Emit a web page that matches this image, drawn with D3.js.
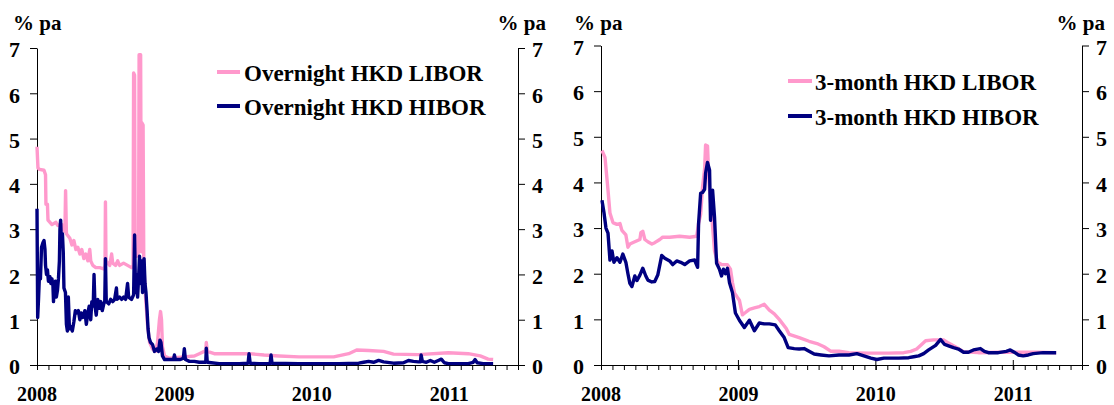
<!DOCTYPE html>
<html>
<head>
<meta charset="utf-8">
<script src="https://cdn.jsdelivr.net/npm/d3@7"></script>
<style>
  html, body { margin: 0; padding: 0; background: #fff; }
  svg { display: block; }
  text { font-family: "Liberation Serif", "Times New Roman", Times, serif; font-weight: bold; fill: #000; }
</style>
</head>
<body>
<svg id="chart" width="1114" height="405"></svg>
<script>
// ---- Data (decimal years, % pa) ----
const onLiborT = [2008.000,2008.007,2008.018,2008.051,2008.062,2008.065,2008.076,2008.080,2008.109,2008.138,2008.152,2008.181,2008.188,2008.203,2008.208,2008.214,2008.239,2008.254,2008.268,2008.283,2008.297,2008.312,2008.326,2008.341,2008.355,2008.370,2008.384,2008.391,2008.406,2008.428,2008.457,2008.486,2008.495,2008.498,2008.502,2008.514,2008.529,2008.543,2008.551,2008.572,2008.587,2008.601,2008.630,2008.659,2008.688,2008.699,2008.703,2008.710,2008.714,2008.725,2008.739,2008.743,2008.754,2008.759,2008.763,2008.772,2008.777,2008.790,2008.804,2008.819,2008.841,2008.862,2008.877,2008.891,2008.899,2008.906,2008.913,2008.928,2008.964,2009.000,2009.072,2009.145,2009.181,2009.217,2009.228,2009.232,2009.239,2009.290,2009.399,2009.543,2009.652,2009.761,2009.906,2010.159,2010.268,2010.326,2010.413,2010.522,2010.594,2010.775,2010.993,2011.138,2011.225,2011.283,2011.319];
const onLiborV = [4.82,4.35,4.32,4.30,4.20,3.55,3.55,3.20,3.10,3.15,3.08,3.10,3.00,2.95,3.85,2.90,2.80,2.65,2.75,2.55,2.60,2.45,2.55,2.35,2.45,2.30,2.55,2.30,2.20,2.15,2.15,2.12,2.20,3.60,2.30,2.25,2.20,2.45,2.25,2.20,2.30,2.20,2.25,2.20,2.15,2.20,6.45,6.40,2.40,2.40,2.50,6.85,6.85,2.50,5.35,5.30,2.20,1.50,0.90,0.50,0.35,0.30,0.50,1.00,1.18,1.00,0.40,0.20,0.15,0.16,0.18,0.20,0.25,0.30,0.30,0.50,0.30,0.25,0.25,0.25,0.22,0.20,0.18,0.18,0.25,0.33,0.32,0.30,0.24,0.23,0.27,0.25,0.20,0.13,0.12];

const onHiborT = [2008.000,2008.005,2008.011,2008.018,2008.025,2008.033,2008.043,2008.051,2008.058,2008.062,2008.069,2008.076,2008.083,2008.094,2008.101,2008.109,2008.116,2008.120,2008.127,2008.134,2008.141,2008.149,2008.156,2008.163,2008.167,2008.172,2008.178,2008.185,2008.191,2008.196,2008.207,2008.214,2008.221,2008.228,2008.236,2008.246,2008.257,2008.268,2008.279,2008.290,2008.301,2008.312,2008.322,2008.333,2008.348,2008.359,2008.370,2008.380,2008.391,2008.399,2008.409,2008.415,2008.422,2008.431,2008.442,2008.453,2008.464,2008.475,2008.486,2008.493,2008.498,2008.504,2008.522,2008.536,2008.551,2008.565,2008.578,2008.583,2008.601,2008.616,2008.630,2008.645,2008.659,2008.667,2008.688,2008.703,2008.710,2008.717,2008.725,2008.732,2008.739,2008.746,2008.754,2008.761,2008.768,2008.779,2008.786,2008.793,2008.801,2008.808,2008.815,2008.826,2008.841,2008.855,2008.870,2008.884,2008.895,2008.902,2008.913,2008.928,2008.964,2008.993,2009.000,2009.007,2009.043,2009.065,2009.072,2009.080,2009.109,2009.145,2009.181,2009.228,2009.232,2009.239,2009.268,2009.326,2009.471,2009.536,2009.543,2009.551,2009.616,2009.696,2009.703,2009.710,2009.906,2010.196,2010.341,2010.377,2010.413,2010.449,2010.486,2010.522,2010.594,2010.667,2010.703,2010.739,2010.775,2010.790,2010.795,2010.804,2010.833,2010.862,2010.891,2010.920,2010.942,2010.964,2010.993,2011.138,2011.174,2011.188,2011.203,2011.246,2011.319];
const onHiborV = [3.45,1.05,1.45,2.00,1.90,2.60,2.70,2.75,2.55,2.20,2.00,2.10,1.85,1.95,1.80,1.90,1.75,1.40,1.75,1.85,1.50,1.65,1.90,2.30,3.00,3.20,2.70,2.90,2.50,1.70,1.60,0.90,0.75,1.50,0.80,0.85,0.75,0.95,1.20,1.15,1.20,1.00,1.15,1.05,1.20,0.90,1.15,1.30,1.00,1.40,1.30,2.00,1.30,1.10,1.45,1.25,1.40,1.20,1.35,1.40,2.35,1.40,1.35,1.45,1.40,1.45,1.70,1.45,1.50,1.45,1.50,1.45,1.80,1.50,1.45,1.55,2.87,1.60,2.00,1.50,1.90,2.40,1.80,2.30,1.60,2.35,1.80,1.60,1.20,0.80,0.60,0.50,0.45,0.30,0.35,0.30,0.55,0.50,0.20,0.12,0.12,0.12,0.22,0.12,0.12,0.15,0.36,0.12,0.08,0.08,0.06,0.06,0.37,0.06,0.05,0.03,0.03,0.04,0.25,0.04,0.03,0.03,0.22,0.04,0.03,0.03,0.04,0.06,0.08,0.06,0.10,0.07,0.04,0.05,0.10,0.08,0.07,0.07,0.22,0.08,0.06,0.10,0.06,0.10,0.13,0.05,0.03,0.03,0.06,0.12,0.05,0.03,0.03];

const m3LiborT = [2008.007,2008.029,2008.051,2008.065,2008.087,2008.116,2008.138,2008.152,2008.181,2008.196,2008.210,2008.246,2008.283,2008.290,2008.304,2008.319,2008.341,2008.370,2008.391,2008.428,2008.449,2008.500,2008.572,2008.645,2008.696,2008.710,2008.725,2008.739,2008.754,2008.761,2008.775,2008.783,2008.790,2008.804,2008.826,2008.848,2008.877,2008.920,2008.942,2008.957,2008.971,2008.993,2009.007,2009.029,2009.051,2009.080,2009.116,2009.152,2009.188,2009.225,2009.261,2009.297,2009.348,2009.370,2009.442,2009.514,2009.572,2009.623,2009.674,2009.732,2009.804,2009.949,2010.094,2010.203,2010.254,2010.297,2010.333,2010.362,2010.420,2010.493,2010.529,2010.565,2010.601,2010.638,2010.746,2010.891,2011.036,2011.181,2011.312];
const m3LiborV = [4.70,4.55,3.83,3.33,3.12,3.08,3.10,2.95,2.85,2.58,2.65,2.70,2.75,2.90,2.93,2.75,2.70,2.65,2.68,2.75,2.80,2.80,2.82,2.80,2.82,3.10,3.30,3.90,4.30,4.82,4.80,4.20,3.83,3.33,2.50,2.25,2.20,2.20,2.10,1.80,1.58,1.48,1.42,1.10,1.15,1.22,1.25,1.28,1.33,1.20,1.12,1.00,0.80,0.67,0.60,0.52,0.47,0.40,0.30,0.30,0.27,0.26,0.26,0.27,0.30,0.35,0.45,0.53,0.55,0.55,0.48,0.42,0.36,0.29,0.27,0.28,0.28,0.28,0.27];

const m3HiborT = [2008.007,2008.022,2008.036,2008.051,2008.065,2008.080,2008.094,2008.116,2008.138,2008.159,2008.181,2008.196,2008.210,2008.225,2008.246,2008.261,2008.283,2008.304,2008.326,2008.341,2008.370,2008.391,2008.413,2008.442,2008.464,2008.500,2008.522,2008.551,2008.580,2008.609,2008.645,2008.681,2008.703,2008.710,2008.725,2008.739,2008.754,2008.761,2008.775,2008.790,2008.797,2008.812,2008.826,2008.841,2008.862,2008.877,2008.891,2008.906,2008.920,2008.935,2008.957,2008.978,2009.007,2009.043,2009.080,2009.116,2009.152,2009.188,2009.225,2009.268,2009.297,2009.333,2009.362,2009.406,2009.442,2009.478,2009.514,2009.551,2009.601,2009.659,2009.732,2009.804,2009.862,2009.913,2009.964,2010.007,2010.058,2010.167,2010.239,2010.275,2010.312,2010.348,2010.384,2010.435,2010.471,2010.500,2010.529,2010.565,2010.601,2010.638,2010.674,2010.710,2010.761,2010.790,2010.819,2010.891,2010.949,2010.978,2011.007,2011.036,2011.072,2011.109,2011.145,2011.217,2011.312];
const m3HiborV = [3.61,3.33,3.00,2.89,2.30,2.50,2.25,2.35,2.25,2.43,2.25,2.00,1.79,1.72,1.95,1.85,1.97,2.12,1.95,1.86,1.82,1.83,1.97,2.40,2.34,2.28,2.20,2.28,2.25,2.20,2.28,2.30,2.14,3.10,3.76,3.78,3.85,4.20,4.44,4.27,3.17,3.83,3.24,2.23,2.10,1.95,2.10,2.00,2.12,1.80,1.58,1.14,0.98,0.82,0.98,0.75,0.92,0.90,0.90,0.88,0.75,0.60,0.38,0.36,0.35,0.36,0.30,0.24,0.22,0.20,0.22,0.22,0.25,0.20,0.15,0.12,0.15,0.15,0.16,0.18,0.20,0.25,0.33,0.43,0.56,0.45,0.42,0.38,0.35,0.28,0.28,0.33,0.36,0.30,0.27,0.27,0.30,0.33,0.28,0.22,0.20,0.22,0.25,0.27,0.27];

const yTicks = [0, 1, 2, 3, 4, 5, 6, 7];
const yearTicks = [2008, 2009, 2010, 2011];
const yearLabels = ["2008", "2009", "2010", "2011"];
const unitLabel = "% pa";
const xDomain = [2008, 2011.5];

// ---- Layout / style ----
const PINK = "#FF99CC", NAVY = "#000080";
const svg = d3.select("#chart");

const panels = [
  { x0: 37, x1: 518, yTop: 48, yBot: 365,
    series: [
      { name: "Overnight HKD LIBOR", t: onLiborT, v: onLiborV, color: PINK },
      { name: "Overnight HKD HIBOR", t: onHiborT, v: onHiborV, color: NAVY }
    ],
    legend: { x: 217, y: [72, 106], len: 23, tx: 244 },
    unitLeftX: 13, unitRightX: 546, crossYearTicks: false },
  { x0: 601, x1: 1082, yTop: 45.5, yBot: 365,
    series: [
      { name: "3-month HKD LIBOR", t: m3LiborT, v: m3LiborV, color: PINK },
      { name: "3-month HKD HIBOR", t: m3HiborT, v: m3HiborV, color: NAVY }
    ],
    legend: { x: 788, y: [81, 116], len: 24, tx: 815 },
    unitLeftX: 574, unitRightX: 1105, crossYearTicks: true }
];

const monthTicks = d3.range(0, 43).map(m => 2008 + m / 12);

panels.forEach(p => {
  const x = d3.scaleLinear().domain(xDomain).range([p.x0, p.x1]);
  const y = d3.scaleLinear().domain([0, 7]).range([p.yBot, p.yTop]);
  const g = svg.append("g");

  const axL = g.append("g").attr("transform", `translate(${p.x0},0)`)
    .call(d3.axisLeft(y).tickValues(yTicks).tickSize(7).tickSizeOuter(0).tickPadding(10).tickFormat(d3.format("d")));
  const axR = g.append("g").attr("transform", `translate(${p.x1},0)`)
    .call(d3.axisRight(y).tickValues(yTicks).tickSize(7).tickSizeOuter(0).tickPadding(7).tickFormat(d3.format("d")));
  [axL, axR].forEach(ax => {
    ax.attr("font-family", null).attr("font-size", null);
    ax.selectAll("text").style("font-size", "22px").attr("dy", "0.4em");
    ax.selectAll("path,line").attr("stroke", "#000").attr("stroke-width", 1);
  });

  const axX = g.append("g").attr("transform", `translate(0,${p.yBot})`)
    .call(d3.axisBottom(x).tickValues(monthTicks).tickSize(5).tickSizeOuter(0).tickFormat(""));
  axX.attr("font-family", null).attr("font-size", null);
  axX.selectAll("path,line").attr("stroke", "#000").attr("stroke-width", 1);
  if (p.crossYearTicks) {
    g.selectAll("line.yt").data(yearTicks.slice(1)).join("line")
      .attr("class", "yt")
      .attr("x1", d => x(d)).attr("x2", d => x(d))
      .attr("y1", p.yBot - 5).attr("y2", p.yBot + 5)
      .attr("stroke", "#000").attr("stroke-width", 1);
  }
  g.selectAll("text.yl").data(yearTicks).join("text")
    .attr("class", "yl")
    .attr("x", d => x(d)).attr("y", 401)
    .attr("text-anchor", "middle").style("font-size", "20px")
    .text((d, i) => yearLabels[i]);

  g.append("text").attr("x", p.unitLeftX).attr("y", 30).style("font-size", "21px").text(unitLabel);
  g.append("text").attr("x", p.unitRightX).attr("y", 30).attr("text-anchor", "end").style("font-size", "21px").text(unitLabel);

  const line = d3.line().x(d => x(d[0])).y(d => y(d[1]));
  p.series.forEach(s => {
    const pts = s.t.map((t, i) => [t, s.v[i]]);
    g.append("path").datum(pts).attr("d", line)
      .attr("fill", "none").attr("stroke", s.color).attr("stroke-width", 3.4)
      .attr("stroke-linejoin", "round");
  });

  p.series.forEach((s, i) => {
    const ly = p.legend.y[i];
    g.append("line").attr("x1", p.legend.x).attr("x2", p.legend.x + p.legend.len)
      .attr("y1", ly).attr("y2", ly).attr("stroke", s.color).attr("stroke-width", 4);
    g.append("text").attr("x", p.legend.tx).attr("y", ly + 8.5)
      .style("font-size", "23px").text(s.name);
  });
});
</script>
</body>
</html>
